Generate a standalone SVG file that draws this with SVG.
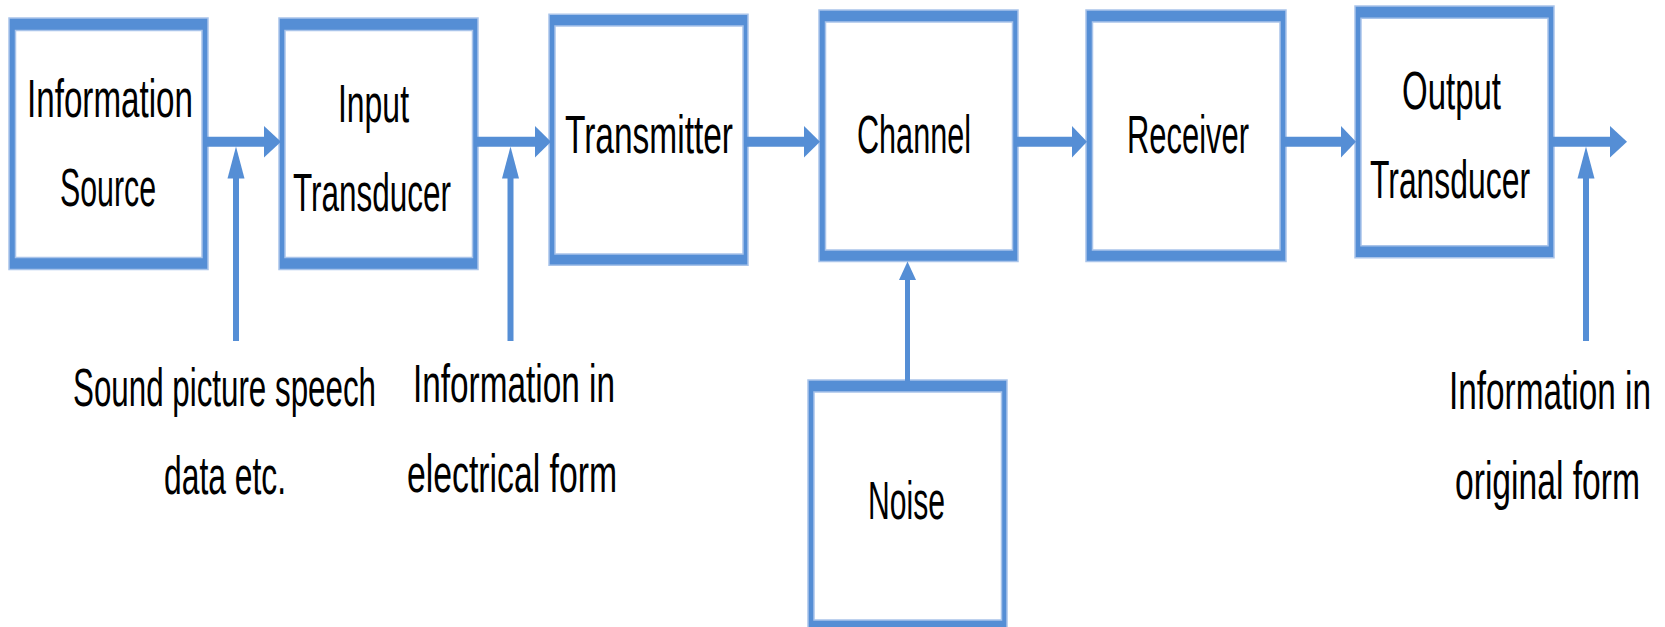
<svg xmlns="http://www.w3.org/2000/svg" width="1665" height="627" viewBox="0 0 1665 627">
<style>
.box{fill:#558ED5;fill-rule:evenodd;stroke:#A9C4EA;stroke-width:1.5}
.t{font-family:"Liberation Sans",Arial,sans-serif;font-size:54px;fill:#000}
.ln{stroke:#558ED5;fill:none}
.hd{fill:#558ED5}
</style>
<rect width="1665" height="627" fill="#fff"/>
<g id="information-source">
<path class="box" d="M9 18H208V269.5H9Z M15.5 30.5V257.5H202V30.5Z"/>
<text class="t" x="27" y="117" textLength="166" lengthAdjust="spacingAndGlyphs">Information</text>
<text class="t" x="60" y="206" textLength="96" lengthAdjust="spacingAndGlyphs">Source</text>
</g>
<g id="input-transducer">
<path class="box" d="M279 18H478V269.5H279Z M285 30.5V257.5H472.5V30.5Z"/>
<text class="t" x="338" y="121.5" textLength="71" lengthAdjust="spacingAndGlyphs">Input</text>
<text class="t" x="293" y="210.5" textLength="158" lengthAdjust="spacingAndGlyphs">Transducer</text>
</g>
<g id="transmitter">
<path class="box" d="M549 14.3H748V265.3H549Z M555 26V254H743V26Z"/>
<text class="t" x="565" y="153" textLength="168" lengthAdjust="spacingAndGlyphs">Transmitter</text>
</g>
<g id="channel">
<path class="box" d="M819 10H1018V261.5H819Z M825.5 22V250H1012.5V22Z"/>
<text class="t" x="857" y="153" textLength="114" lengthAdjust="spacingAndGlyphs">Channel</text>
</g>
<g id="receiver">
<path class="box" d="M1086 10H1286V261.5H1086Z M1092.5 22V250H1280V22Z"/>
<text class="t" x="1127" y="153" textLength="122" lengthAdjust="spacingAndGlyphs">Receiver</text>
</g>
<g id="output-transducer">
<path class="box" d="M1355 6H1554V257.7H1355Z M1361 18.3V245.7H1548V18.3Z"/>
<text class="t" x="1402" y="109" textLength="99" lengthAdjust="spacingAndGlyphs">Output</text>
<text class="t" x="1370" y="198" textLength="160" lengthAdjust="spacingAndGlyphs">Transducer</text>
</g>
<g id="noise">
<path class="box" d="M808 380H1007V640H808Z M814 392V620H1001.5V392Z"/>
<text class="t" x="868" y="519" textLength="77" lengthAdjust="spacingAndGlyphs">Noise</text>
</g>
<g id="labels">
<text class="t" x="73" y="405.5" textLength="303" lengthAdjust="spacingAndGlyphs">Sound picture speech</text>
<text class="t" x="164" y="494" textLength="122" lengthAdjust="spacingAndGlyphs">data etc.</text>
<text class="t" x="413" y="401.5" textLength="202" lengthAdjust="spacingAndGlyphs">Information in</text>
<text class="t" x="407" y="491.5" textLength="210" lengthAdjust="spacingAndGlyphs">electrical form</text>
<text class="t" x="1449" y="409" textLength="202" lengthAdjust="spacingAndGlyphs">Information in</text>
<text class="t" x="1455" y="499" textLength="185" lengthAdjust="spacingAndGlyphs">original form</text>
</g>
<g id="connectors">
<g class="ln" stroke-width="10">
<path d="M207 141.7H265"/>
<path d="M477 141.7H536"/>
<path d="M747 141.7H805"/>
<path d="M1017 141.7H1074"/>
<path d="M1285 141.7H1342"/>
<path d="M1552 141.7H1611"/>
</g>
<g class="hd">
<path d="M264 126L281 141.7L264 157.5Z"/>
<path d="M535 126L551 141.7L535 157.5Z"/>
<path d="M804 126L820 141.7L804 157.5Z"/>
<path d="M1072 126L1087 141.7L1072 157.5Z"/>
<path d="M1341 126L1356 141.7L1341 157.5Z"/>
<path d="M1610 126L1627 141.7L1610 157.5Z"/>
</g>
<g class="ln" stroke-width="6">
<path d="M236 341V177"/>
<path d="M510.5 341V177"/>
<path d="M1586 341V177"/>
<path d="M907.5 381V279" stroke-width="5"/>
</g>
<g class="hd">
<path d="M227.5 178.5L236 146.5L244.5 178.5Z"/>
<path d="M502 178.5L510.5 146.5L519 178.5Z"/>
<path d="M1577.5 178.5L1586 146.5L1594.5 178.5Z"/>
<path d="M899 280L907.5 261.5L916 280Z"/>
</g>
</g>
</svg>
